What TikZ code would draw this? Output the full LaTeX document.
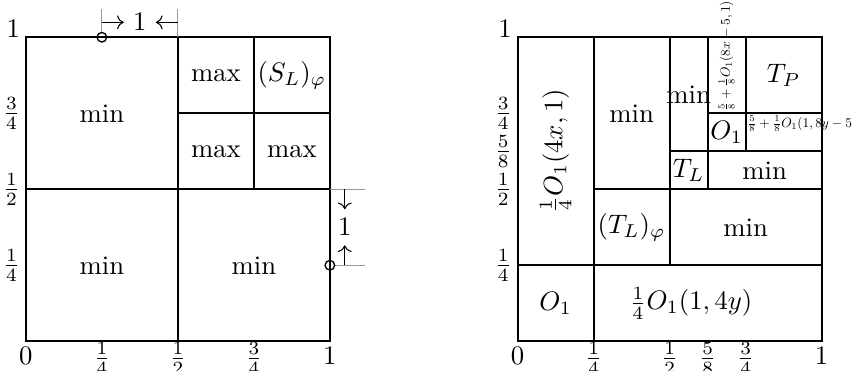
\documentclass[tikz,border=0pt]{standalone}
\usepackage{amsmath,amssymb}
\usetikzlibrary{arrows.meta}
\definecolor{guideGray}{gray}{0.6}
\tikzset{
  cell/.style={line width=0.8pt},
  guide/.style={draw=guideGray, line width=0.4pt},
  ring/.style={line width=0.5pt},
  tickx/.style={below, inner sep=2pt},
  fracx/.style={below, inner sep=0.3pt},
  ticky/.style={left, inner sep=2pt},
  topone/.style={anchor=base east, inner sep=2pt},
  small/.style={scale=0.5, inner sep=1.5pt},
}

\begin{document}
\begin{tikzpicture}[x=4cm, y=4cm]
\useasboundingbox (-0.34cm,-0.38cm) rectangle (10.87cm,4.49cm);
% left square
\draw[cell] (0,0) rectangle (1,1);
\draw[cell] (1/2,0) -- (1/2,1);
\draw[cell] (0,1/2) -- (1,1/2);
\draw[cell] (3/4,1/2) -- (3/4,1);
\draw[cell] (1/2,3/4) -- (1,3/4);
\node (lA) at (1/4,3/4) {min};
\node (lB) at (5/8,7/8) {max};
\node (lC) at (7/8,7/8) {$(S_L)_\varphi$};
\node (lD) at (5/8,5/8) {max};
\node (lE) at (7/8,5/8) {max};
\node (lF) at (1/4,1/4) {min};
\node (lG) at (3/4,1/4) {min};
\node[tickx] (lx0) at (0,0) {$0$};
\node[fracx] (lx1) at (1/4,0) {$\frac14$};
\node[fracx] (lx2) at (1/2,0) {$\frac12$};
\node[fracx] (lx3) at (3/4,0) {$\frac34$};
\node[tickx] (lx4) at (1,0) {$1$};
\node[ticky] (ly1) at (0,1/4) {$\frac14$};
\node[ticky] (ly2) at (0,1/2) {$\frac12$};
\node[ticky] (ly3) at (0,3/4) {$\frac34$};
\node[topone] (ly4) at (0,1) {$1$};
% width marks
\coordinate (pt) at (1/4,1);
\coordinate (pr) at (1,1/4);
\draw[guide] ([yshift=1.8pt]pt) -- (1/4,1.092);
\draw[guide] (1/2,1) -- (1/2,1.092);
\draw[guide] ([xshift=1.8pt]pr) -- (1.115,1/4);
\draw[guide] (1,1/2) -- (1.115,1/2);
\draw[ring] (pt) circle (1.8pt);
\draw[ring] (pr) circle (1.8pt);
\coordinate (ta) at (1/4,1.049);
\coordinate (tb) at (1/2,1.049);
\node (tone) at (3/8,1.049) {$1$};
\draw[->] (ta) -- (tone);
\draw[->] (tb) -- (tone);
\coordinate (ra) at (1.049,1/2);
\coordinate (rb) at (1.049,1/4);
\node (rone) at (1.049,3/8) {$1$};
\draw[->] (ra) -- (rone);
\draw[->] (rb) -- (rone);
% right square
\begin{scope}[xshift=6.47cm]
\draw[cell] (0,0) rectangle (1,1);
\draw[cell] (0,1/4) -- (1,1/4);
\draw[cell] (1/4,0) -- (1/4,1);
\draw[cell] (1/2,1/4) -- (1/2,1);
\draw[cell] (1/4,1/2) -- (1,1/2);
\draw[cell] (5/8,1/2) -- (5/8,1);
\draw[cell] (1/2,5/8) -- (1,5/8);
\draw[cell] (3/4,5/8) -- (3/4,1);
\draw[cell] (5/8,3/4) -- (1,3/4);
\node (rA) at (1/8,1/8) {$O_1$};
\node (rB) at (0.57,1/8) {$\frac14O_1(1,4y)$};
\node[rotate=90] (rC) at (1/8,5/8) {$\frac14O_1(4x,1)$};
\node (rD) at (3/8,3/4) {min};
\node (rE) at (3/8,3/8) {$(T_L)_\varphi$};
\node (rF) at (3/4,3/8) {min};
\node (rG) at (9/16,9/16) {$T_L$};
\node (rH) at (13/16,9/16) {min};
\node (rI) at (9/16,13/16) {min};
\node (rJ) at (11/16,11/16) {$O_1$};
\node[small, anchor=west] (rK) at (3/4,0.715) {$\frac58+\frac18O_1(1,8y-5)$};
\node[small, rotate=90, anchor=west] (rL) at (11/16,3/4) {$\frac58+\frac18O_1(8x-5,1)$};
\node (rM) at (7/8,7/8) {$T_P$};
\node[tickx] (rx0) at (0,0) {$0$};
\node[fracx] (rx1) at (1/4,0) {$\frac14$};
\node[fracx] (rx2) at (1/2,0) {$\frac12$};
\node[fracx] (rx3) at (5/8,0) {$\frac58$};
\node[fracx] (rx4) at (3/4,0) {$\frac34$};
\node[tickx] (rx5) at (1,0) {$1$};
\node[ticky] (ry1) at (0,1/4) {$\frac14$};
\node[ticky] (ry2) at (0,1/2) {$\frac12$};
\node[ticky] (ry3) at (0,5/8) {$\frac58$};
\node[ticky] (ry4) at (0,3/4) {$\frac34$};
\node[topone] (ry5) at (0,1) {$1$};
\end{scope}
\end{tikzpicture}
\end{document}
